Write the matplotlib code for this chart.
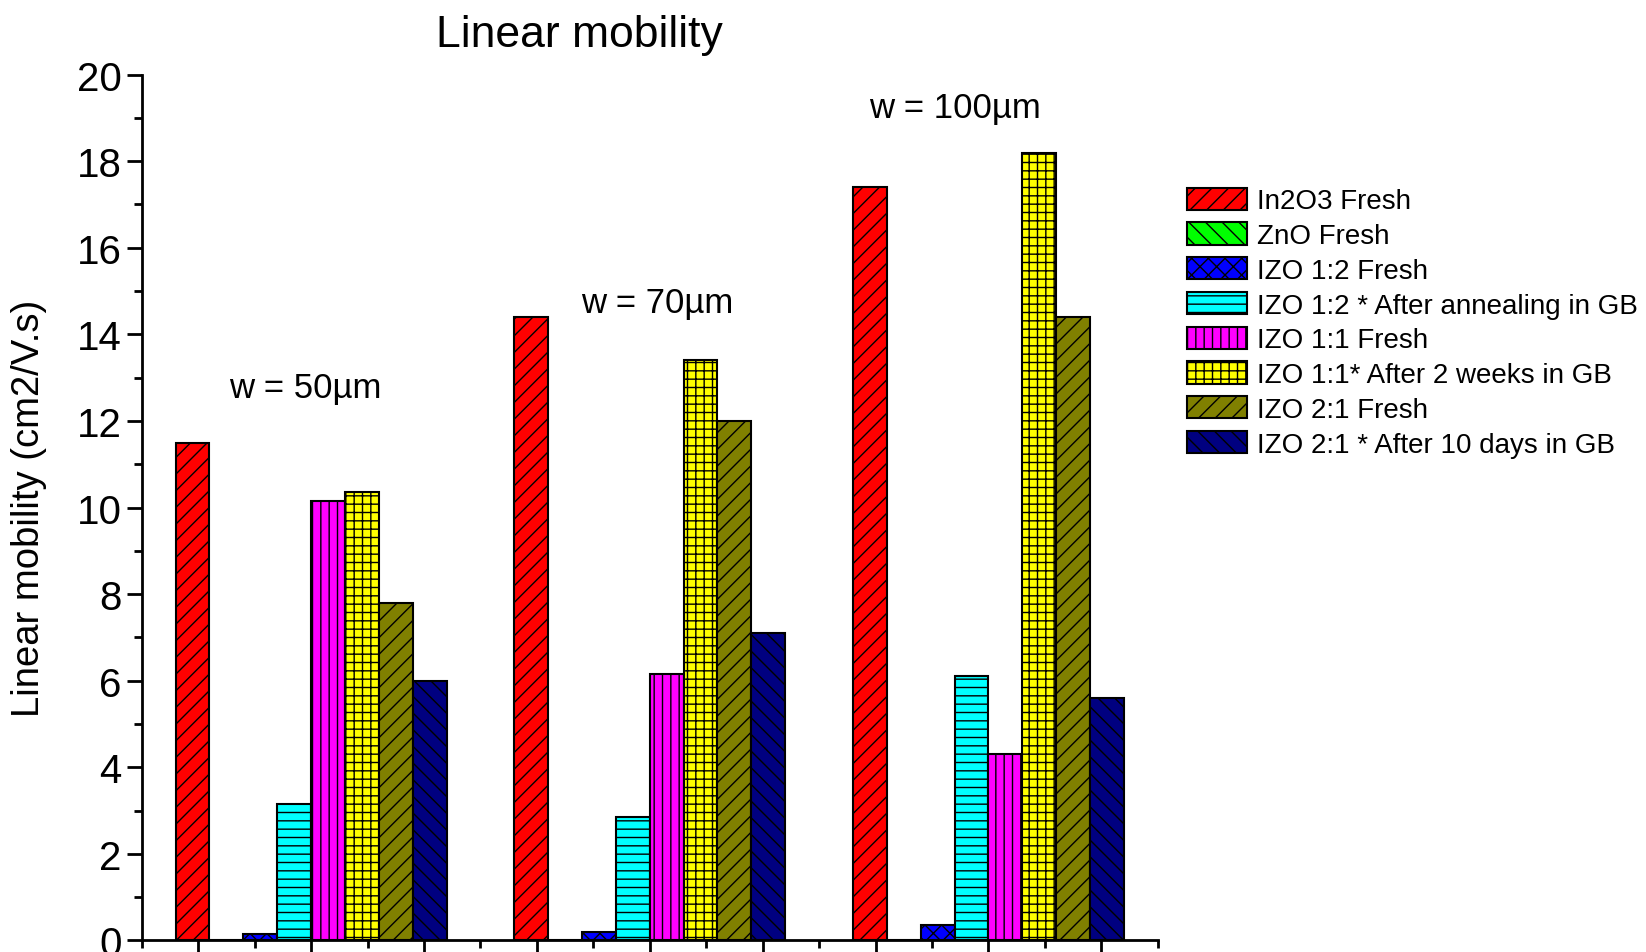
import numpy as np
import matplotlib
matplotlib.use("Agg")
import matplotlib.pyplot as plt
from matplotlib.ticker import FixedLocator, MultipleLocator

plt.rcParams['font.family'] = ['Liberation Sans', 'DejaVu Sans']
plt.rcParams['hatch.linewidth'] = 1.0

# data
widths = ['w = 50µm', 'w = 70µm', 'w = 100µm']
series = ['In2O3 Fresh', 'ZnO Fresh', 'IZO 1:2 Fresh',
          'IZO 1:2 * After annealing in GB', 'IZO 1:1 Fresh',
          'IZO 1:1* After 2 weeks in GB', 'IZO 2:1 Fresh',
          'IZO 2:1 * After 10 days in GB']
in2o3 = [11.5, 14.4, 17.4]
zno = [0.0, 0.0, 0.0]
izo12 = [0.15, 0.2, 0.35]
izo12_ann = [3.15, 2.85, 6.1]
izo11 = [10.15, 6.15, 4.3]
izo11_2w = [10.35, 13.4, 18.2]
izo21 = [7.8, 12.0, 14.4]
izo21_10d = [6.0, 7.1, 5.6]
values = [in2o3, zno, izo12, izo12_ann, izo11, izo11_2w, izo21, izo21_10d]

colors = ['#ff0000', '#00ff00', '#0000ff', '#00ffff', '#ff00ff', '#ffff00',
          '#808000', '#000080']
hatches = ['//', '\\\\', 'xx', '--', '||', '++', '//', '\\\\']

fig = plt.figure(figsize=(16.46, 9.53), dpi=100)
ax = fig.add_axes([0.0861, 0.0121, 0.6173, 0.9086])

x = np.arange(1, len(widths) + 1)
bw = 0.1
for i, (name, vals) in enumerate(zip(series, values)):
    ax.bar(x - 0.4 + bw * (i + 0.5), vals, width=bw, color=colors[i],
           hatch=hatches[i], edgecolor='black', linewidth=1.5, label=name)

ax.set_xlim(0.5, 3.5)
ax.set_ylim(0, 20)
ax.xaxis.set_major_locator(FixedLocator(np.arange(2 / 3, 3.5, 1 / 3)))
ax.xaxis.set_minor_locator(FixedLocator(np.arange(0.5, 3.51, 1 / 3)))
ax.yaxis.set_major_locator(MultipleLocator(2))
ax.yaxis.set_minor_locator(MultipleLocator(1))
ax.set_xticklabels([])
ax.tick_params(axis='both', which='major', length=11, width=2, labelsize=29)
ax.tick_params(axis='both', which='minor', length=6, width=2)
ax.spines['top'].set_visible(False)
ax.spines['right'].set_visible(False)
ax.spines['left'].set_linewidth(2)
ax.spines['bottom'].set_linewidth(2)
ax.set_ylabel('Linear mobility (cm2/V.s)', fontsize=27.5)
ax.yaxis.set_label_coords(-0.093, 0.5)

# group labels
label_y = [12.78, 14.74, 19.25]
label_x = [0.984, 2.022, 2.90]
for lx, ly, t in zip(label_x, label_y, widths):
    ax.text(lx, ly, t, fontsize=25, ha='center', va='center')

fig.text(0.352, 0.963, 'Linear mobility', fontsize=32, ha='center', va='center')

fig.legend(loc='upper left', bbox_to_anchor=(0.7213, 0.802), frameon=False,
           fontsize=20, handlelength=2.15, handleheight=0.85,
           labelspacing=0.29, handletextpad=0.35, borderpad=0, borderaxespad=0)

fig.savefig('out.png', dpi=100)
